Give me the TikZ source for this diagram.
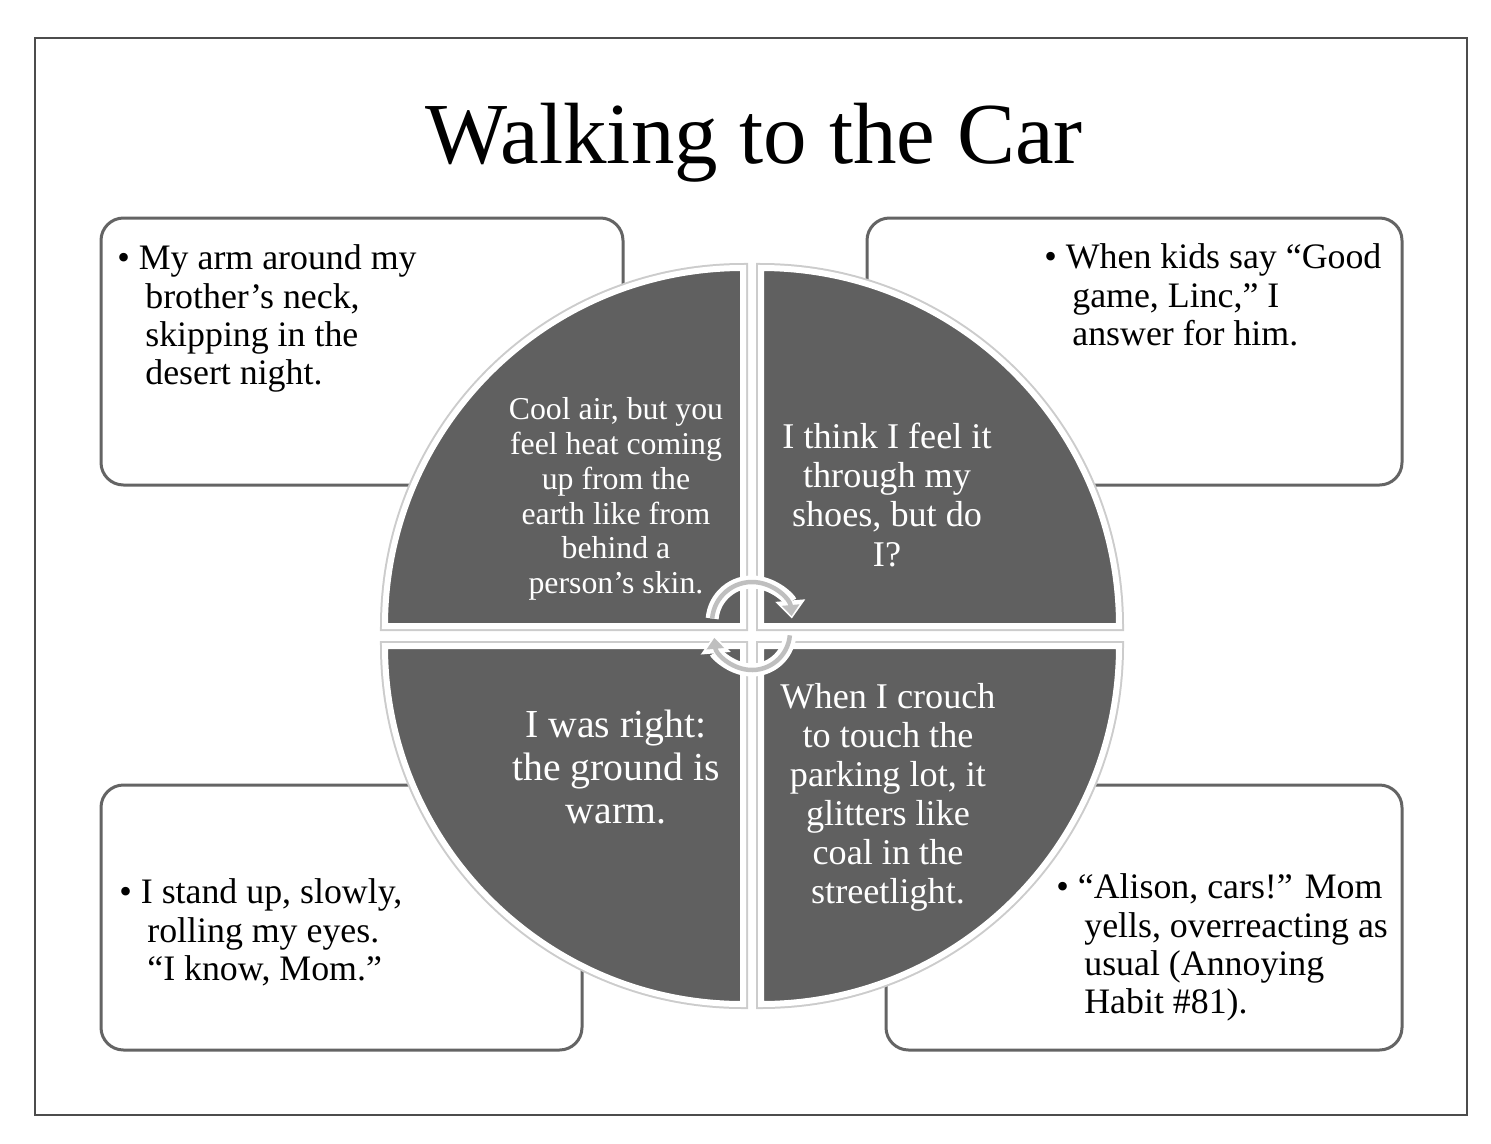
\documentclass[tikz,border=0pt]{standalone}
\usepackage{fontspec}
\setmainfont{Liberation Serif}
\usepackage{tikz}
\usetikzlibrary{arrows.meta}
\definecolor{wedgegray}{RGB}{96,96,96}
\definecolor{panelgray}{RGB}{100,100,100}

\tikzset{
  panel/.style={draw=panelgray, line width=0.06cm, rounded corners=0.45cm, fill=white},
  note/.style={anchor=north west, align=left, inner sep=0pt, font=\fontsize{20.4}{21.8}\selectfont},
  wedge/.style={fill=wedgegray, draw=white, line width=0.12cm},
  wedgeshadow/.style={draw=black!20, line width=0.2cm},
  wedgetext/.style={text=white, align=center, inner sep=0pt},
  cyclewhite/.style={white, line width=0.26cm, -{Triangle[length=0.36cm, width=0.58cm]}},
  cyclegray/.style={black!25, line width=0.09cm, shorten >=0.05cm, -{Triangle[length=0.22cm, width=0.34cm]}},
}

\begin{document}
\begin{tikzpicture}[x=0.02cm, y=-0.02cm]
\useasboundingbox (0,0) rectangle (1491,1143);

% Outer frame
\draw[black!70, line width=0.03cm] (35,38) rectangle (1467,1115);

% Title
\node[anchor=base, font=\fontsize{49.5}{55}\selectfont] (title) at (754,163) {Walking to the Car};

% Corner boxes (the circle is drawn over them)
\draw[panel] (101,218) rectangle (623,485);
\draw[panel] (867,218) rectangle (1402,485);
\draw[panel] (101,785) rectangle (582,1050);
\draw[panel] (886,785) rectangle (1402,1050);

% Four quarters of the circle
\def\rad{358}
\foreach \cx/\cy/\a/\b in {743/626/180/270, 761/626/0/-90, 743/646/180/90, 761/646/0/90}{
  \draw[wedgeshadow] (\cx,\cy) -- ++(\a:\rad) arc[start angle=\a, end angle=\b, radius=\rad] -- cycle;
  \draw[wedge] (\cx,\cy) -- ++(\a:\rad) arc[start angle=\a, end angle=\b, radius=\rad] -- cycle;
}

% Texts in the quarters
\node[wedgetext, font=\fontsize{18.1}{19.8}\selectfont] (coolair) at (616,499)
  {Cool air, but you\\feel heat coming\\up from the\\earth like from\\behind a\\person’s skin.};
\node[wedgetext, font=\fontsize{20.6}{22.2}\selectfont] (ithink) at (887,495)
  {I think I feel it\\through my\\shoes, but do\\I?};
\node[wedgetext, font=\fontsize{22.6}{24.7}\selectfont] (iwasright) at (616,767)
  {I was right:\\the ground is\\warm.};
\node[wedgetext, font=\fontsize{20.6}{22.2}\selectfont] (crouch) at (888,797)
  {When I crouch\\to touch the\\parking lot, it\\glitters like\\coal in the\\streetlight.};

% Circular arrows in the middle
\draw[cyclewhite] (752,622) ++(185:40) arc[start angle=185, end angle=355, radius=40];
\draw[cyclegray] (752,622) ++(185:40) arc[start angle=185, end angle=355, radius=40];
\draw[cyclewhite] (752,632) ++(5:38) arc[start angle=5, end angle=175, radius=38];
\draw[cyclegray] (752,632) ++(5:38) arc[start angle=5, end angle=175, radius=38];

% Notes in the boxes
\node[note] (armnote) at (117,244.5)
  {\textbullet\ My arm around my\\\hspace*{0.56cm}brother’s neck,\\\hspace*{0.56cm}skipping in the\\\hspace*{0.56cm}desert night.};
\node[note] (kidsnote) at (1044,243.5)
  {\textbullet\ When kids say “Good\\\hspace*{0.56cm}game, Linc,” I\\\hspace*{0.56cm}answer for him.};
\node[note] (standnote) at (119,878.5)
  {\textbullet\ I stand up, slowly,\\\hspace*{0.56cm}rolling my eyes.\\\hspace*{0.56cm}“I know, Mom.”};
\node[note] (momnote) at (1056,873.5)
  {\textbullet\ “Alison, cars!” Mom\\\hspace*{0.56cm}yells, overreacting as\\\hspace*{0.56cm}usual (Annoying\\\hspace*{0.56cm}Habit \#81).};

\end{tikzpicture}
\end{document}
